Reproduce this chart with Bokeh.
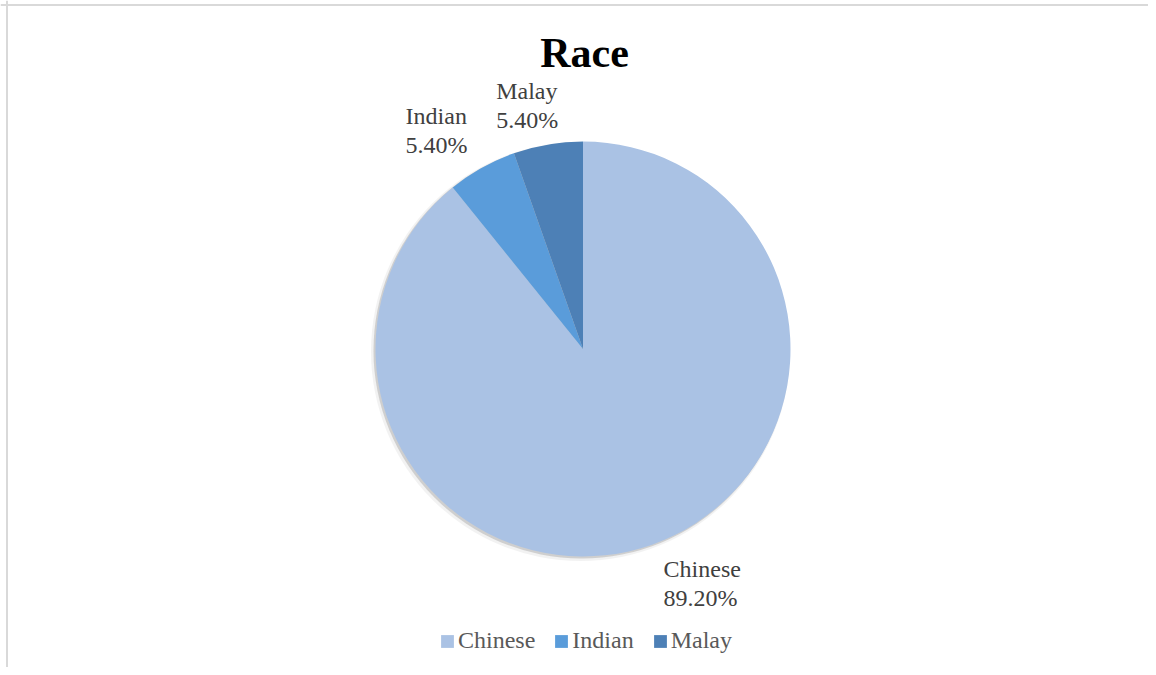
import math
from bokeh.plotting import figure
from bokeh.models import Range1d, Label, Legend, LegendItem, Span, ColumnDataSource
from bokeh.embed import file_html
from bokeh.resources import INLINE
from bokeh.core.properties import value

# ---- data ----
categories = ["Chinese", "Indian", "Malay"]
shares = [89.2, 5.4, 5.4]
pct_labels = ["89.20%", "5.40%", "5.40%"]
colors = ["#AAC2E4", "#5A9CDA", "#4D80B6"]
title_text = "Race"

# ---- layout ----
W, H = 1148, 667
OX, OY = 0, 0
SERIF = "Liberation Serif"


def dx(sx):
    return sx - OX


def dy(sy):
    return OY + H - sy


p = figure(width=W, height=H, x_range=Range1d(0, W), y_range=Range1d(0, H),
           output_backend="svg", toolbar_location=None, min_border=0)
p.axis.visible = False
p.grid.visible = False
p.outline_line_color = None
p.background_fill_color = "white"
p.border_fill_color = "white"

# chart border (left and top visible in reference)
p.add_layout(Span(location=dx(6.5), dimension="height", line_color="#D9D9D9", line_width=2))
p.add_layout(Span(location=dy(4.5), dimension="width", line_color="#D9D9D9", line_width=2))

cx, cy, R = dx(582.5), dy(348.5), 207.5

# soft shadow (lower-left)
p.circle(x=[cx - 2.5], y=[cy - 2.5], radius=R + 2, fill_color="#7F7F7F", fill_alpha=0.10, line_color=None)
p.circle(x=[cx - 1.5], y=[cy - 1.5], radius=R + 0.5, fill_color="#7F7F7F", fill_alpha=0.30, line_color=None)

# wedges: clockwise from 12 o'clock
total = sum(shares)
starts, ends, mids = [], [], []
cum = 0.0
for s in shares:
    a0 = math.radians(90 - cum / total * 360)
    a1 = math.radians(90 - (cum + s) / total * 360)
    starts.append(a0)
    ends.append(a1)
    mids.append((a0 + a1) / 2)
    cum += s

src = ColumnDataSource(dict(x=[cx] * 3, y=[cy] * 3, start=starts, end=ends,
                            color=colors, cat=categories))
wr = p.wedge(x="x", y="y", radius=R, start_angle="start", end_angle="end",
             direction="clock", fill_color="color", line_color=None, source=src)

# data labels (outside end, Excel-like anchoring)
LD = 219
for cat, pct, m in zip(categories, pct_labels, mids):
    c, s = math.cos(m), math.sin(m)
    px = cx + LD * c
    py = cy + LD * s
    fx = min(1.14, max(-0.1, 0.5 - 1.8 * c))
    fy = min(1.0, max(0.0, 0.5 + 1.8 * s))
    p.text(x=[px], y=[py], text=[cat + "\n" + pct], text_font=value(SERIF),
           text_font_size="24px", text_color="#404040", text_line_height=1.12,
           anchor=value((fx, fy)), text_align="left")

# title
TS = 42
p.add_layout(Label(x=dx(584), y=dy(66 - 14), text=title_text, text_font=SERIF,
                   text_font_size=f"{TS}px", text_font_style="bold", text_color="black",
                   text_align="center", text_baseline="alphabetic"))

# legend
items = [LegendItem(label=c, renderers=[wr], index=i) for i, c in enumerate(categories)]
legend = Legend(items=items, orientation="horizontal", location=(dx(439), dy(654)),
                glyph_width=16, glyph_height=16, label_standoff=3, spacing=18,
                padding=0, margin=0, border_line_color=None, background_fill_alpha=0,
                label_text_font=SERIF, label_text_font_size="24px", label_text_color="#595959")
p.add_layout(legend, "center")

open("out.html", "w").write(file_html(p, INLINE))
